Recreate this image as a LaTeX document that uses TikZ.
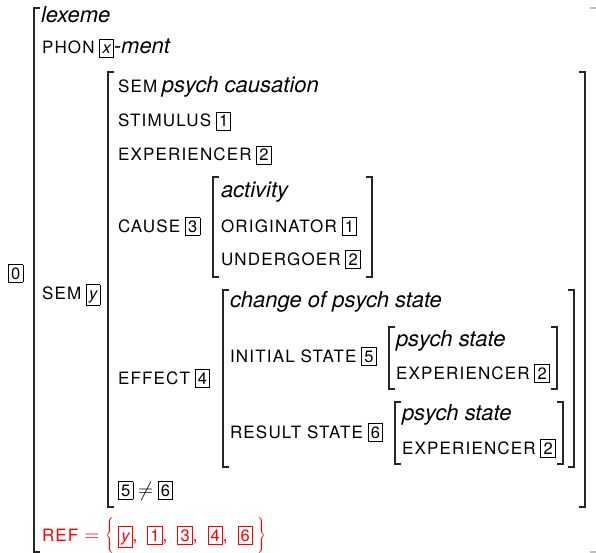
\documentclass[tikz,border=0pt]{standalone}
\usepackage{fontspec}
\setmainfont{TeX Gyre Heros}
\newfontfamily\ftfont[LetterSpace=7]{TeX Gyre Heros}
\newcommand{\ft}[1]{{\fontsize{17}{17}\ftfont #1}}
\newcommand{\val}[1]{{\fontsize{22}{22}\selectfont\itshape #1}}
\newcommand{\tg}[1]{{\fontsize{16.5}{16.5}\selectfont\setlength{\fboxsep}{2.3pt}\setlength{\fboxrule}{0.8pt}\fbox{\vphantom{0}#1}}}
\newcommand{\cm}{,\hspace{10pt}}
\begin{document}
\begin{tikzpicture}[x=1pt,y=-1pt,
  lbl/.style={anchor=base west,inner sep=0pt,outer sep=0pt,font=\fontsize{17}{20}\selectfont},
  brk/.style={line width=1.3pt,black!85}]
\useasboundingbox (0,0) rectangle (596,553);
% brackets: left x, right x, top, bottom
\newcommand{\lbr}[3]{\draw[brk] (#1+6,#2) -- (#1,#2) -- (#1,#3) -- (#1+6,#3);}
\newcommand{\rbr}[3]{\draw[brk] (#1-6,#2) -- (#1,#2) -- (#1,#3) -- (#1-6,#3);}
% outer
\lbr{34}{8}{552}
\draw[line width=1.3pt,black!25] (590,8) -- (596,8);
\draw[line width=1.3pt,black!25] (590,552) -- (596,552);
% SEM
\lbr{108}{72}{507}\rbr{585}{72}{507}
% CAUSE
\lbr{213}{177}{277}\rbr{372}{177}{277}
% EFFECT
\lbr{223}{290}{467}\rbr{574}{290}{467}
% INITIAL
\lbr{389}{327}{389}\rbr{557}{327}{389}
% RESULT
\lbr{395}{402}{464}\rbr{563}{402}{464}
% texts
\node[lbl] (n0) at (8,279) {\tg{0}};
\node[lbl] (lex) at (41,23) {\val{lexeme}};
\node[lbl] (phon) at (42,54) {\ft{PHON} \tg{\itshape x}\val{-ment}};
\node[lbl] (sem) at (42,299) {\ft{SEM} \tg{\itshape y}};
\node[lbl] (sem1) at (118,93) {\ft{SEM} \val{psych causation}};
\node[lbl] (stim) at (118,127) {\ft{STIMULUS} \tg{1}};
\node[lbl] (exp1) at (118,161) {\ft{EXPERIENCER} \tg{2}};
\node[lbl] (cause) at (118,232) {\ft{CAUSE} \tg{3}};
\node[lbl] (act) at (221,198) {\val{activity}};
\node[lbl] (orig) at (221,232) {\ft{ORIGINATOR} \tg{1}};
\node[lbl] (und) at (221,265) {\ft{UNDERGOER} \tg{2}};
\node[lbl] (eff) at (118,384) {\ft{EFFECT} \tg{4}};
\node[lbl] (chg) at (230,307) {\val{change of psych state}};
\node[lbl] (init) at (230,362) {\ft{INITIAL STATE} \tg{5}};
\node[lbl] (ps1) at (396,346) {\val{psych state}};
\node[lbl] (exp2) at (396,379) {\ft{EXPERIENCER} \tg{2}};
\node[lbl] (res) at (230,438) {\ft{RESULT STATE} \tg{6}};
\node[lbl] (ps2) at (402,420) {\val{psych state}};
\node[lbl] (exp3) at (402,454) {\ft{EXPERIENCER} \tg{2}};
\node[lbl] (neq) at (118,496) {\tg{5} {\fontsize{20}{20}\selectfont$\neq$} \tg{6}};
\node[lbl,text=red] (ref) at (42,541) {\ft{REF}\hspace{6pt}{\fontsize{22}{22}\selectfont$=\left\{\rule[-10pt]{0pt}{34pt}\right.$}\hspace{3pt}\tg{\itshape y}\cm\tg{1}\cm\tg{3}\cm\tg{4}\cm\tg{6}\hspace{3pt}{\fontsize{22}{22}\selectfont$\left.\rule[-10pt]{0pt}{34pt}\right\}$}};
\end{tikzpicture}
\end{document}
